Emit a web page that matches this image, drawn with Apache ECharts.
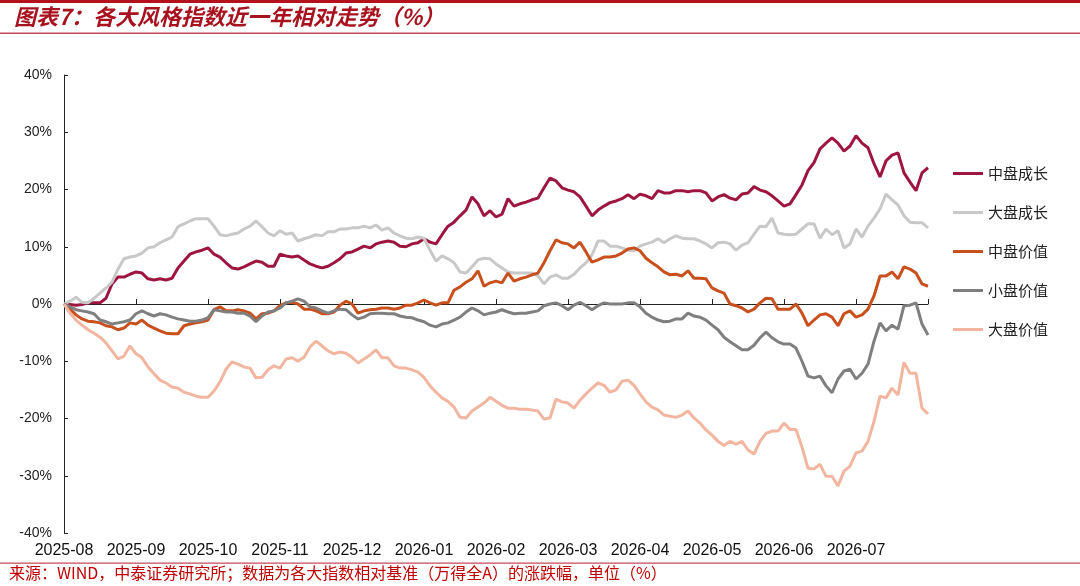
<!DOCTYPE html>
<html>
<head>
<meta charset="utf-8">
<script src="https://cdn.jsdelivr.net/npm/echarts@6/dist/echarts.min.js"></script>
<style>
html,body{margin:0;padding:0;background:#fff;}
#c{width:1080px;height:586px;}
</style>
</head>
<body>
<div id="c"></div>
<script>
// Month tick labels (one per month; data sampled 12 times per month)
const monthLabels = ['2025-08','2025-09','2025-10','2025-11','2025-12','2026-01','2026-02','2026-03','2026-04','2026-05','2026-06','2026-07'];
const seriesNames = ['中盘成长','大盘成长','中盘价值','小盘价值','大盘价值'];
const stepsPerMonth = 12;

const midGrowth = [0,-0.1,-0.2,-0.1,0.2,0.2,0.2,1.0,3.5,4.7,4.7,5.2,5.6,5.4,4.4,4.2,4.4,4.2,4.5,6.3,7.5,8.7,9.1,9.4,9.8,8.7,8.2,7.2,6.3,6.1,6.5,7.0,7.5,7.3,6.6,6.6,8.7,8.4,8.2,8.4,7.7,7.0,6.6,6.3,6.6,7.2,7.9,8.9,9.1,9.6,10.1,9.8,10.5,10.8,11.0,10.8,10.1,10.0,10.5,10.7,11.4,10.8,10.5,12.1,13.6,14.3,15.4,16.4,18.7,17.5,15.4,16.3,15.2,15.7,18.4,17.1,17.5,17.8,18.2,18.5,20.3,22.0,21.5,20.3,19.9,19.6,18.7,17.1,15.4,16.4,17.1,17.7,18.0,18.4,19.1,18.4,19.2,18.9,18.4,19.8,19.4,19.4,19.8,19.8,19.6,19.8,19.8,19.4,18.0,18.7,19.1,18.5,18.2,19.2,19.4,20.5,19.9,19.6,18.9,18.0,17.1,17.5,19.1,20.8,23.3,24.7,27.1,28.1,29.0,28.1,26.7,27.6,29.4,28.1,27.3,24.5,22.2,25.0,26.0,26.4,22.9,21.3,19.8,22.9,23.8];
const largeGrowth = [0,0.5,1.2,0.3,0.2,1.0,1.9,2.8,3.8,6.1,7.9,8.2,8.4,8.9,9.8,10.0,10.7,11.2,11.7,13.5,14.0,14.5,14.9,14.9,14.9,13.6,12.1,11.9,12.2,12.4,13.1,13.6,14.5,13.5,12.4,11.9,12.8,12.2,12.4,11.0,11.4,11.7,12.1,11.9,12.6,12.6,13.1,13.1,13.3,13.3,13.6,13.3,13.8,12.9,13.3,12.4,11.9,11.5,11.4,11.7,11.5,9.4,7.5,8.4,7.9,7.2,5.6,5.4,6.5,7.7,8.0,7.9,7.0,6.3,5.6,5.4,5.4,5.4,5.4,4.9,3.5,4.7,5.1,4.5,4.5,5.2,6.3,7.2,8.6,11.0,11.0,10.1,10.1,9.8,9.4,9.3,10.1,10.5,10.8,11.4,10.7,11.4,11.9,11.5,11.4,11.4,11.0,10.5,9.8,10.7,10.8,10.5,9.4,10.3,10.7,12.2,13.6,13.5,15.0,12.4,12.2,12.1,12.2,13.1,14.0,14.0,11.5,13.1,12.1,12.8,9.8,10.5,13.1,11.7,13.6,15.0,16.6,19.2,18.2,17.3,15.4,14.3,14.2,14.2,13.3];
const midValue = [0,-0.9,-1.9,-2.6,-3.0,-3.1,-3.3,-3.8,-4.0,-4.5,-4.2,-3.3,-3.5,-2.8,-3.7,-4.2,-4.7,-5.1,-5.2,-5.2,-3.8,-3.5,-3.3,-3.1,-2.8,-1.0,-0.5,-1.2,-1.2,-1.0,-1.2,-1.6,-2.6,-1.7,-1.6,-1.2,-0.3,0.2,0.3,0,-0.9,-0.9,-1.2,-1.7,-1.7,-1.4,-0.2,0.5,0,-1.6,-1.2,-1.0,-0.9,-0.7,-0.7,-0.9,-0.7,-0.2,-0.2,0.2,0.7,0.2,-0.2,0.2,0.2,2.4,3.0,3.8,4.4,5.8,3.1,3.7,4.0,3.7,5.4,4.0,4.4,4.7,5.1,5.4,7.2,9.3,11.2,10.7,10.5,9.8,10.8,9.1,7.3,7.7,8.2,8.2,8.4,8.9,9.6,9.8,9.3,8.0,7.2,6.5,5.6,5.1,5.2,4.9,5.8,4.5,4.5,4.4,2.8,2.3,1.9,0,-0.3,-0.7,-1.4,-0.9,0.2,1.0,0.9,-0.9,-0.9,-0.9,0,-1.6,-3.8,-2.8,-1.9,-1.7,-2.3,-3.8,-1.7,-1.2,-2.3,-1.9,-0.9,1.4,4.9,4.9,5.6,4.4,6.5,6.1,5.4,3.5,3.1];
const smallValue = [0,-0.5,-1.0,-1.2,-1.4,-1.7,-2.8,-3.1,-3.5,-3.3,-3.1,-2.8,-1.7,-1.2,-1.7,-2.1,-1.7,-1.9,-2.3,-2.6,-2.8,-3.0,-3.0,-2.8,-2.4,-1.0,-1.2,-1.4,-1.4,-1.6,-1.6,-2.1,-3.1,-2.1,-1.4,-1.2,-0.7,0.2,0.5,0.9,0.5,-0.5,-0.7,-1.2,-1.6,-1.2,-0.9,-1.0,-1.9,-2.6,-2.3,-1.7,-1.6,-1.6,-1.7,-1.7,-2.1,-2.3,-2.4,-2.8,-3.1,-3.7,-4.0,-3.5,-3.3,-2.8,-2.3,-1.4,-0.7,-1.2,-1.9,-1.6,-1.4,-1.0,-1.4,-1.7,-1.6,-1.6,-1.4,-1.2,-0.3,0,0.2,-0.3,-1.0,-0.2,0.3,-0.3,-1.0,-0.3,0.2,0,0,0,0.2,0.2,-0.5,-1.6,-2.3,-2.8,-3.1,-3.0,-2.6,-2.6,-1.6,-2.1,-2.3,-2.8,-3.7,-4.5,-5.8,-6.6,-7.3,-8.0,-8.0,-7.2,-5.9,-4.9,-5.9,-6.6,-7.0,-7.0,-7.7,-10.0,-12.6,-12.9,-12.6,-14.3,-15.5,-13.1,-11.7,-11.4,-13.1,-12.1,-10.5,-6.5,-3.3,-4.7,-3.7,-4.4,-0.3,-0.2,0.2,-3.5,-5.4];
const largeValue = [0,-1.6,-2.8,-3.7,-4.5,-5.1,-5.8,-6.8,-8.2,-9.6,-9.1,-7.3,-8.7,-9.4,-11.0,-12.2,-13.3,-13.8,-14.5,-14.7,-15.4,-15.7,-16.1,-16.3,-16.3,-15.2,-13.6,-11.4,-10.1,-10.5,-11.0,-11.2,-12.9,-12.8,-11.5,-10.8,-11.2,-9.6,-9.4,-10.0,-9.3,-7.5,-6.5,-7.3,-8.2,-8.7,-8.4,-8.6,-9.3,-10.3,-9.6,-8.9,-8.0,-9.4,-9.4,-10.8,-11.2,-11.2,-11.5,-11.9,-12.8,-14.3,-15.4,-16.4,-17.0,-18.0,-19.8,-19.9,-18.7,-18.0,-17.3,-16.3,-17.0,-17.7,-18.2,-18.2,-18.4,-18.4,-18.5,-18.7,-20.1,-19.9,-16.6,-17.1,-17.3,-18.2,-16.8,-15.7,-14.7,-13.8,-14.2,-15.4,-15.0,-13.5,-13.3,-14.2,-15.7,-17.1,-18.0,-18.5,-19.4,-19.6,-19.8,-19.4,-18.7,-19.9,-20.8,-22.0,-22.9,-24.0,-24.7,-24.0,-24.5,-24.0,-25.5,-26.2,-24.0,-22.6,-22.2,-22.2,-20.8,-21.9,-21.9,-25.0,-28.7,-28.8,-28.0,-30.1,-30.1,-31.8,-29.2,-28.3,-26.0,-25.7,-24.0,-20.5,-16.1,-16.4,-14.7,-15.9,-10.2,-12.1,-12.1,-18.2,-19.2];

const allValues = [midGrowth, largeGrowth, midValue, smallValue, largeValue];
const colors = ['#9E1640','#C8C8C8','#C9501C','#7F7F7F','#F2B6A0'];

const chart = echarts.init(document.getElementById('c'), null, {renderer:'canvas'});
const series = allValues.map((vals, si) => ({
  name: seriesNames[si],
  type: 'line',
  xAxisIndex: 0,
  yAxisIndex: 0,
  symbol: 'none',
  smooth: false,
  silent: true,
  animation: false,
  lineStyle: { width: 3, color: colors[si] },
  itemStyle: { color: colors[si] },
  data: vals.map((v, i) => [i / stepsPerMonth, v])
}));

const option = {
  animation: false,
  backgroundColor: '#ffffff',
  grid: { left: 64, right: 152, top: 75, bottom: 53, containLabel: false },
  legend: {
    orient: 'vertical',
    left: 948,
    top: 161,
    icon: 'rect',
    itemWidth: 30,
    itemHeight: 3,
    itemGap: 24,
    textStyle: { fontSize: 15, color: '#222', fontFamily: 'Noto Sans CJK SC' },
    data: seriesNames
  },
  xAxis: [
    {
      type: 'value', min: 0, max: 12, interval: 1,
      axisLine: { show: true, onZero: true, lineStyle: { color: '#222', width: 1 } },
      axisTick: { show: true, inside: true, length: 5, lineStyle: { color: '#222' } },
      axisLabel: { show: false },
      splitLine: { show: false }
    },
    {
      type: 'value', min: 0, max: 12, interval: 1, position: 'bottom',
      axisLine: { show: false, onZero: false },
      axisTick: { show: false },
      splitLine: { show: false },
      axisLabel: {
        show: true, margin: 10, fontSize: 16, color: '#111', fontFamily: 'Liberation Sans',
        showMaxLabel: false,
        formatter: v => monthLabels[Math.round(v)] || ''
      }
    }
  ],
  yAxis: {
    type: 'value', min: -40, max: 40, interval: 10,
    axisLine: { show: true, onZero: false, lineStyle: { color: '#222', width: 1 } },
    axisTick: { show: true, inside: true, length: 4, lineStyle: { color: '#222' } },
    splitLine: { show: false },
    axisLabel: { margin: 12, fontSize: 14, color: '#222', fontFamily: 'Liberation Sans', formatter: '{value}%' }
  },
  graphic: [
    { type: 'rect', shape: { x: 0, y: 0, width: 1080, height: 3 }, style: { fill: '#B3121C' } },
    { type: 'text', left: 14, top: 6, style: { text: '图表7：各大风格指数近一年相对走势（%）', font: 'italic bold 22px "Noto Sans CJK SC"', fill: '#A8121E' } },
    { type: 'rect', shape: { x: 0, y: 32.5, width: 1080, height: 1.5 }, style: { fill: '#C8485A' } },
    { type: 'rect', shape: { x: 0, y: 562.5, width: 1080, height: 1.2 }, style: { fill: '#C8485A' } },
    { type: 'text', left: 9, top: 565, style: { text: '来源：WIND，中泰证券研究所；数据为各大指数相对基准（万得全A）的涨跌幅，单位（%）', font: '16px "Noto Sans CJK SC"', fill: '#C00000' } }
  ],
  series: series
};
chart.setOption(option);
</script>
</body>
</html>
